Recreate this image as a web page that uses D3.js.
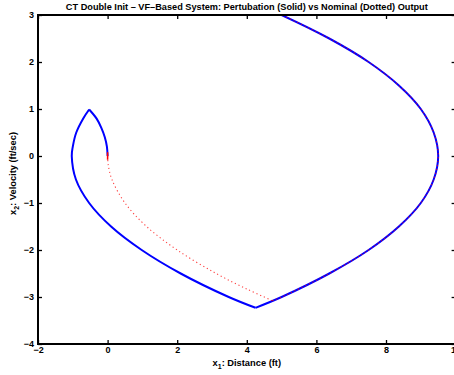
<!DOCTYPE html>
<html>
<head>
<meta charset="utf-8">
<script src="https://cdn.jsdelivr.net/npm/d3@7"></script>
<style>
  body { margin: 0; background: #fff; }
  svg { display: block; }
  text { font-family: "Liberation Sans", Arial, sans-serif; font-weight: bold; }
</style>
</head>
<body>
<svg id="chart" width="454" height="375"></svg>
<script>
// axis ranges / ticks
const xTicks = [-2, 0, 2, 4, 6, 8, 10];
const yTicks = [-4, -3, -2, -1, 0, 1, 2, 3];

// perturbation trajectory (solid), [x1, x2]
const pertArcA = [[0, 0], [-0.02, 0.2], [-0.08, 0.4], [-0.18, 0.6], [-0.32, 0.8], [-0.53, 0.99]];
const pertArcB = [[-0.53, 0.99], [-0.70, 0.8], [-0.90, 0.5], [-1.0, 0.2], [-1.03, 0], [-0.91, -0.5],
                  [-0.53, -1.0], [0.10, -1.5], [0.98, -2.0], [2.10, -2.5], [3.48, -3.0], [4.25, -3.23]];
const pertArcC = [[4.25, -3.23], [5.0, -3.0], [6.37, -2.5], [7.5, -2.0], [8.37, -1.5], [9.0, -1.0],
                  [9.37, -0.5], [9.5, 0], [9.37, 0.5], [9.0, 1.0], [8.37, 1.5], [7.5, 2.0],
                  [6.37, 2.5], [5.0, 3.0], [4.38, 3.2]];
// nominal trajectory (dotted)
const nomArcA = [[0, 0], [0.02, -0.2], [0.125, -0.5], [0.5, -1.0], [1.12, -1.5], [2.0, -2.0],
                 [3.12, -2.5], [4.0, -2.83], [4.74, -3.08]];
const nomArcB = [[4.74, -3.08], [5.0, -3.0], [6.37, -2.5], [7.5, -2.0], [8.37, -1.5], [9.0, -1.0],
                 [9.37, -0.5], [9.5, 0], [9.37, 0.5], [9.0, 1.0], [8.37, 1.5], [7.5, 2.0],
                 [6.37, 2.5], [5.0, 3.0], [4.38, 3.2]];

const svg = d3.select("#chart");
const mLeft = 38, mRight = 455.6, mTop = 15, mBottom = 344;

const x = d3.scaleLinear().domain([-2, 10]).range([mLeft, mRight]);
const y = d3.scaleLinear().domain([-4, 3]).range([mBottom, mTop]);

svg.append("clipPath").attr("id", "clip")
    .append("rect").attr("x", mLeft).attr("y", mTop)
    .attr("width", mRight - mLeft).attr("height", mBottom - mTop);

const line = d3.line()
    .x(d => x(d[0]))
    .y(d => y(d[1]))
    .curve(d3.curveCatmullRom);

const plot = svg.append("g").attr("clip-path", "url(#clip)");

[pertArcA, pertArcB, pertArcC].forEach(arc => {
    plot.append("path")
        .attr("d", line(arc))
        .attr("fill", "none")
        .attr("stroke", "#0000ff")
        .attr("stroke-width", 2);
});

[nomArcA, nomArcB].forEach(arc => {
    plot.append("path")
        .attr("d", line(arc))
        .attr("fill", "none")
        .attr("stroke", "#ff0000")
        .attr("stroke-width", 1.1)
        .attr("stroke-opacity", 0.75)
        .attr("stroke-dasharray", "1.2,2.8");
});

// red start point sitting on the origin
plot.append("path")
    .attr("d", line([[0, 0.08], [0, -0.08]]))
    .attr("stroke", "#ff0000").attr("stroke-width", 1.5);

// axes, ticks pointing inward
const fmt = d3.format("d");
svg.append("g").attr("transform", `translate(0,${mBottom})`)
    .call(d3.axisBottom(x).tickValues(xTicks).tickFormat(fmt).tickSize(-4).tickPadding(3));
svg.append("g").attr("transform", `translate(${mLeft},0)`)
    .call(d3.axisLeft(y).tickValues(yTicks).tickFormat(fmt).tickSize(-4).tickPadding(4));
svg.append("g").attr("transform", `translate(0,${mTop})`)
    .call(d3.axisTop(x).tickValues(xTicks).tickFormat("").tickSize(-4));
svg.append("g").attr("transform", `translate(${mRight},0)`)
    .call(d3.axisRight(y).tickValues(yTicks).tickFormat("").tickSize(-4));

svg.selectAll(".domain").remove();
svg.selectAll(".tick line").attr("stroke", "#000").attr("stroke-width", 1.3);
svg.selectAll(".tick text")
    .attr("fill", "#000")
    .style("font-size", "9px")
    .style("font-family", "'Liberation Sans', Arial, sans-serif")
    .style("font-weight", "bold");

svg.append("rect")
    .attr("x", mLeft).attr("y", mTop)
    .attr("width", mRight - mLeft).attr("height", mBottom - mTop)
    .attr("fill", "none").attr("stroke", "#000").attr("stroke-width", 2);

// title and labels
svg.append("text")
    .attr("x", (mLeft + mRight) / 2).attr("y", 10)
    .attr("text-anchor", "middle")
    .style("font-size", "9.2px")
    .text("CT Double Init – VF–Based System: Pertubation (Solid) vs Nominal (Dotted) Output");

const xl = svg.append("text")
    .attr("x", (mLeft + mRight) / 2).attr("y", 366)
    .attr("text-anchor", "middle")
    .style("font-size", "9.3px");
xl.append("tspan").text("x");
xl.append("tspan").attr("dy", 3).style("font-size", "7px").text("1");
xl.append("tspan").attr("dy", -3).text(": Distance (ft)");

const yl = svg.append("text")
    .attr("transform", `translate(16,${(mTop + mBottom) / 2 - 6}) rotate(-90)`)
    .attr("text-anchor", "middle")
    .style("font-size", "9.3px");
yl.append("tspan").text("x");
yl.append("tspan").attr("dy", 3).style("font-size", "7px").text("2");
yl.append("tspan").attr("dy", -3).text(": Velocity (ft/sec)");
</script>
</body>
</html>
